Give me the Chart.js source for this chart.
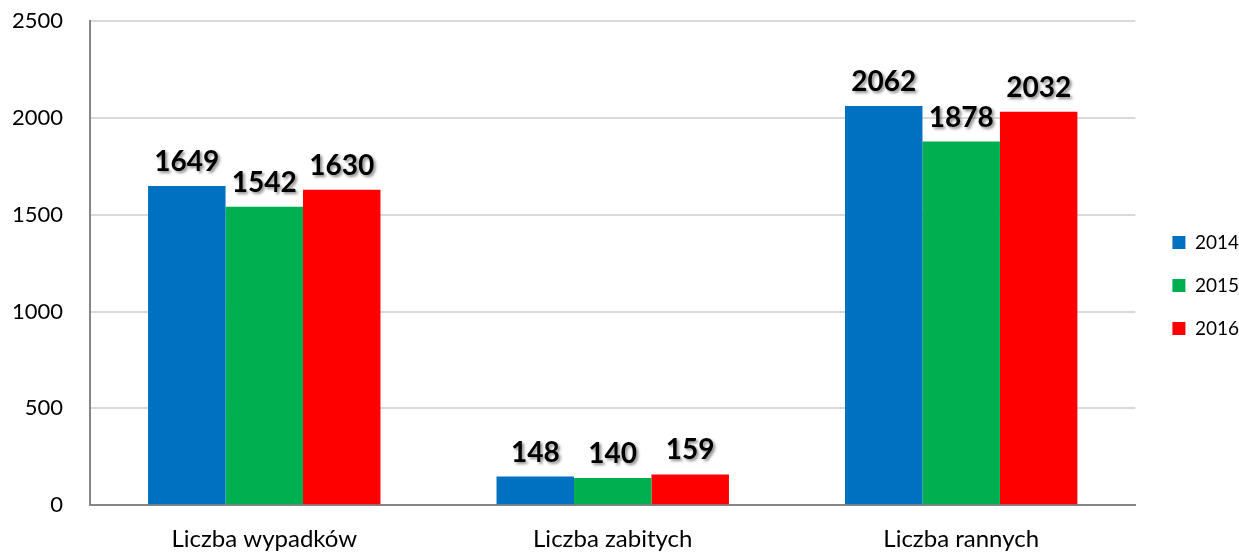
<!DOCTYPE html>
<html>
<head>
<meta charset="utf-8">
<script src="https://cdn.jsdelivr.net/npm/chart.js@4"></script>
<style>
  html, body { margin: 0; padding: 0; background: #fff; }
  .chart-container { width: 1239px; height: 554px; position: relative; }
</style>
</head>
<body>
<div class="chart-container">
  <canvas id="chart"></canvas>
</div>
<script>
const categories = ['Liczba wypadków', 'Liczba zabitych', 'Liczba rannych'];
const years = ['2014', '2015', '2016'];
const values2014 = [1649, 148, 2062];
const values2015 = [1542, 140, 1878];
const values2016 = [1630, 159, 2032];
const colors = ['#0070C0', '#00B050', '#FF0000'];
const yTicks = [0, 500, 1000, 1500, 2000, 2500];

const fontFamily = 'Lato, "Open Sans", sans-serif';

// value labels above the bars, bold with a soft shadow
const valueLabels = {
  id: 'valueLabels',
  afterDatasetsDraw(chart) {
    const ctx = chart.ctx;
    ctx.save();
    ctx.font = 'bold 28px ' + fontFamily;
    ctx.textAlign = 'center';
    ctx.textBaseline = 'alphabetic';
    ctx.fillStyle = '#000';
    ctx.shadowColor = 'rgba(0,0,0,0.45)';
    ctx.shadowBlur = 3;
    ctx.shadowOffsetX = 2;
    ctx.shadowOffsetY = 2;
    chart.data.datasets.forEach((ds, i) => {
      chart.getDatasetMeta(i).data.forEach((bar, j) => {
        ctx.fillText(ds.data[j], bar.x, bar.y - 15);
      });
    });
    ctx.restore();
  }
};

const data = {
  labels: categories,
  datasets: [
    { label: years[0], data: values2014, backgroundColor: colors[0] },
    { label: years[1], data: values2015, backgroundColor: colors[1] },
    { label: years[2], data: values2016, backgroundColor: colors[2] }
  ]
};

new Chart(document.getElementById('chart'), {
  type: 'bar',
  data: data,
  plugins: [valueLabels],
  options: {
    responsive: true,
    maintainAspectRatio: false,
    animation: false,
    layout: { padding: { top: 0, right: -10, left: 4, bottom: -12 } },
    datasets: {
      bar: { barPercentage: 1, categoryPercentage: 0.667 }
    },
    plugins: {
      legend: {
        position: 'right',
        align: 'center',
        title: {
          display: true,
          text: ' ',
          font: { size: 4 },
          padding: 0
        },
        labels: {
          boxWidth: 13,
          boxHeight: 13,
          padding: 24,
          color: '#000',
          font: { family: fontFamily, size: 19 }
        }
      },
      tooltip: { enabled: false }
    },
    scales: {
      x: {
        grid: { display: false },
        border: { color: '#868686', width: 2 },
        ticks: { color: '#000', padding: 12, font: { family: fontFamily, size: 24 } }
      },
      y: {
        min: 0,
        max: 2500,
        afterBuildTicks: (axis) => { axis.ticks = yTicks.map(v => ({ value: v })); },
        grid: { color: '#D9D9D9', lineWidth: 2, drawTicks: true, tickLength: 19, tickColor: 'rgba(0,0,0,0)' },
        border: { color: '#868686', width: 2 },
        ticks: {
          color: '#000',
          padding: 8,
          font: { family: fontFamily, size: 22 },
          callback: (v) => String(v)
        }
      },
      // empty spacer between the plot and the legend
      spacer: {
        position: 'right',
        grid: { display: false },
        border: { display: false },
        ticks: { display: false },
        afterFit: (s) => { s.width = 13; }
      }
    }
  }
});
</script>
</body>
</html>
